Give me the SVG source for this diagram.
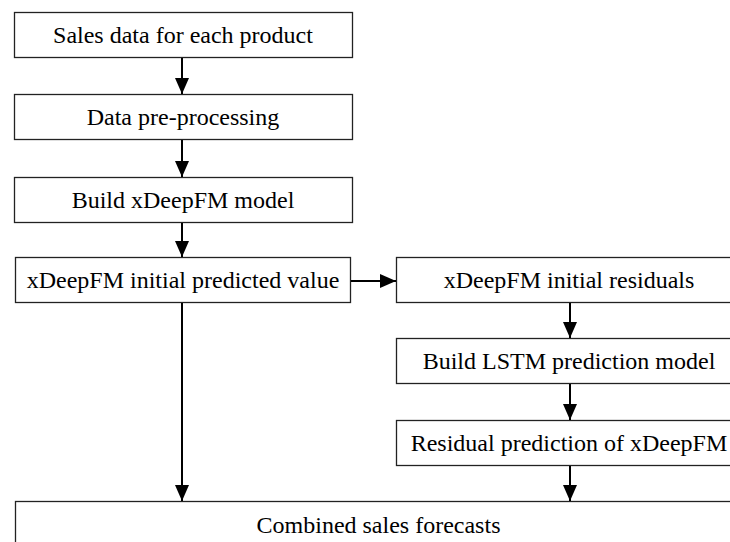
<svg xmlns="http://www.w3.org/2000/svg" width="730" height="542" viewBox="0 0 730 542">
<style>
.box{fill:#fff;stroke:#222;stroke-width:1.3}
.t{font-family:"Liberation Serif","Times New Roman",serif;font-size:24px;fill:#000;text-anchor:middle}
.c{stroke:#000;stroke-width:2;fill:none}
</style>
<defs>
<marker id="ah" markerUnits="userSpaceOnUse" markerWidth="16" markerHeight="14" viewBox="0 0 16 14" refX="16" refY="7" orient="auto">
<path d="M0,0 L16,7 L0,14 Z" fill="#000"/>
</marker>
</defs>
<rect width="730" height="542" fill="#fff"/>
<g id="n1"><rect class="box" x="14.5" y="12.5" width="338" height="45"/><text class="t" x="183" y="43">Sales data for each product</text></g>
<g id="n2"><rect class="box" x="14.5" y="94.5" width="338" height="45"/><text class="t" x="183" y="125">Data pre-processing</text></g>
<g id="n3"><rect class="box" x="14.5" y="177.5" width="338" height="45"/><text class="t" x="183" y="208">Build xDeepFM model</text></g>
<g id="n4"><rect class="box" x="15.5" y="257.5" width="335" height="45"/><text class="t" x="183" y="288">xDeepFM initial predicted value</text></g>
<g id="n5"><rect class="box" x="396.5" y="257.5" width="346" height="45"/><text class="t" x="569" y="288">xDeepFM initial residuals</text></g>
<g id="n6"><rect class="box" x="396.5" y="338.5" width="346" height="45"/><text class="t" x="569" y="369">Build LSTM prediction model</text></g>
<g id="n7"><rect class="box" x="396.5" y="420.5" width="346" height="45"/><text class="t" x="569" y="451">Residual prediction of xDeepFM</text></g>
<g id="n8"><rect class="box" x="15.5" y="501.5" width="727" height="60"/><text class="t" x="378.5" y="533">Combined sales forecasts</text></g>
<g id="connectors">
<line class="c" x1="182" y1="58" x2="182" y2="94" marker-end="url(#ah)"/>
<line class="c" x1="182" y1="140" x2="182" y2="177" marker-end="url(#ah)"/>
<line class="c" x1="182" y1="223" x2="182" y2="257" marker-end="url(#ah)"/>
<line class="c" x1="351" y1="281" x2="396" y2="281" marker-end="url(#ah)"/>
<line class="c" x1="182" y1="303" x2="182" y2="501" marker-end="url(#ah)"/>
<line class="c" x1="570" y1="303" x2="570" y2="338" marker-end="url(#ah)"/>
<line class="c" x1="570" y1="384" x2="570" y2="420" marker-end="url(#ah)"/>
<line class="c" x1="570" y1="466" x2="570" y2="501" marker-end="url(#ah)"/>
</g>
</svg>
